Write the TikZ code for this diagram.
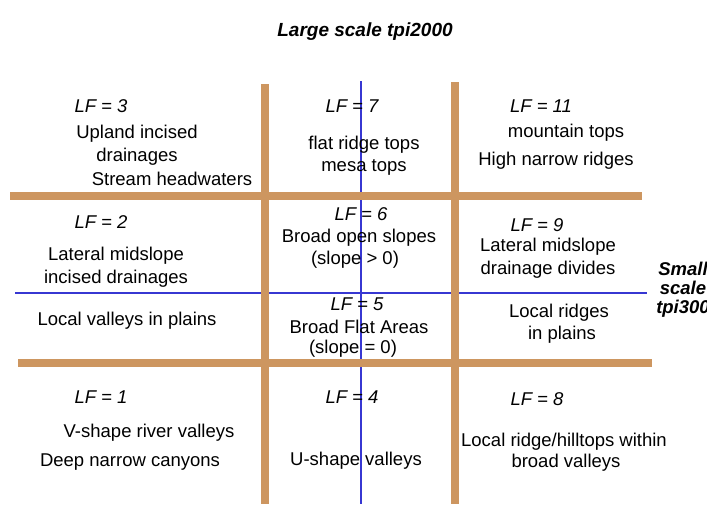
\documentclass[tikz,border=0pt]{standalone}
\usepackage{fontspec}
\setmainfont{Liberation Sans}
\usetikzlibrary{positioning}

\definecolor{barbrown}{RGB}{205,150,96}
\definecolor{scaleblue}{RGB}{55,55,210}

\begin{document}
\begin{tikzpicture}
          [x=1pt,y=-1pt,
          every node/.style={inner sep=0pt, font=\fontsize{18.5}{22}\selectfont},
          lf/.style={font=\fontsize{18.5}{22}\selectfont\itshape},
          heading/.style={font=\fontsize{19}{22}\selectfont\bfseries\itshape, align=center},
          bar/.style={draw=barbrown, line width=8pt},
          axis/.style={draw=scaleblue, line width=2.4pt}]

          \useasboundingbox (0,0) rectangle (707,504);

          % tpi axes
          \coordinate (vtop) at (361,81);   \coordinate (vbot) at (361,504);
          \coordinate (hleft) at (15,293);  \coordinate (hright) at (647,293);
          \path[axis] (vtop) -- (vbot);
          \path[axis] (hleft) -- (hright);

          % class borders
          \coordinate (b1top) at (265,84);  \coordinate (b1bot) at (265,504);
          \coordinate (b2top) at (455,82);  \coordinate (b2bot) at (455,504);
          \coordinate (b3l) at (10,196);    \coordinate (b3r) at (642,196);
          \coordinate (b4l) at (18,363);    \coordinate (b4r) at (652,363);
          \path[bar] (b1top) -- (b1bot);
          \path[bar] (b2top) -- (b2bot);
          \path[bar] (b3l) -- (b3r);
          \path[bar] (b4l) -- (b4r);

          \node [heading] (large) at (365,32) {Large scale tpi2000};
          \node [heading, font=\fontsize{18.5}{19}\selectfont\bfseries\itshape] (small) at (683,290) {Small\\scale\\tpi300};

          % upper row
          \node [lf] (lf3) at (101,106) {LF = 3};
          \node (upland) at (137,134) {Upland incised};
          \node (upland2) at (137,157) {drainages};
          \node (headw) at (172,179) {Stream headwaters};
          \node [lf] (lf7) at (352,106) {LF = 7};
          \node (flat) at (364,145) {flat ridge tops};
          \node (mesa) at (364,167) {mesa tops};
          \node [lf] (lf11) at (541,106) {LF = 11};
          \node (mount) at (566,133) {mountain tops};
          \node (narrow) at (556,161) {High narrow ridges};

          % middle row
          \node [lf] (lf2) at (101,222) {LF = 2};
          \node (latmid) at (116,256) {Lateral midslope};
          \node (incised) at (116,279) {incised drainages};
          \node [lf] (lf6) at (361,214) {LF = 6};
          \node (open) at (359,238) {Broad open slopes};
          \node (slopepos) at (355,260) {(slope > 0)};
          \node [lf] (lf9) at (537,225) {LF = 9};
          \node (latmid2) at (548,247) {Lateral midslope};
          \node (divides) at (548,270) {drainage divides};
          \node (locval) at (127,321) {Local valleys in plains};
          \node [lf] (lf5) at (357,304) {LF = 5};
          \node (flatarea) at (359,327) {Broad Flat Areas};
          \node (slopezero) at (353,349) {(slope = 0)};
          \node (locridge) at (559,313) {Local ridges};
          \node (inplains) at (562,335) {in plains};

          % lower row
          \node [lf] (lf1) at (101,397) {LF = 1};
          \node (vshape) at (149,433) {V-shape river valleys};
          \node (canyon) at (130,462) {Deep narrow canyons};
          \node [lf] (lf4) at (352,397) {LF = 4};
          \node (ushape) at (356,461) {U-shape valleys};
          \node [lf] (lf8) at (537,399) {LF = 8};
          \node (hilltop) at (564,442) {Local ridge/hilltops within};
          \node (broadval) at (566,463) {broad valleys};
  \end{tikzpicture}
\end{document}
